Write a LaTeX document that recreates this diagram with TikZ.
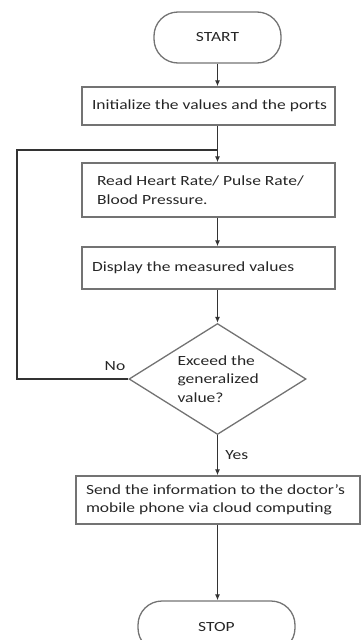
\documentclass[tikz,border=0pt]{standalone}
\usepackage{fontspec}
\setmainfont{Carlito}[FakeStretch=1.25]
\usetikzlibrary{shapes.geometric, arrows.meta, positioning}

\begin{document}
\begin{tikzpicture}[x=1pt, y=1pt,
        every node/.style={font=\fontsize{14}{18.5}\selectfont, text=black!85},
        term/.style={draw=black!55, line width=1.3pt, rounded corners=24pt,
            minimum width=127pt, minimum height=51pt, inner sep=0pt},
        proc/.style={draw=black!55, line width=1.3pt, align=left,
            minimum width=253pt, inner xsep=10pt, inner ysep=0pt},
        decision/.style={diamond, draw=black!55, line width=1.3pt, aspect=1.6,
            inner sep=0pt, minimum width=177pt, minimum height=111pt},
        flow/.style={-{Latex[length=6pt, width=5pt]}, line width=1.2pt, draw=black!80}]
    \useasboundingbox (0,0) rectangle (361,-640);

    \node (start) [term] at (217.5,-37.5) {START};
    \node (init) [proc, minimum height=38pt] at (208.5,-106)
        {\makebox[233pt][l]{Initialize the values and the ports}};
    \node (read) [proc, minimum height=54pt, inner xsep=15pt] at (208.5,-190)
        {\parbox{223pt}{\raggedright Read Heart Rate/ Pulse Rate/\\Blood Pressure.}};
    \node (disp) [proc, minimum height=42pt] at (208.5,-268)
        {\makebox[233pt][l]{Display the measured values}};
    \node (dec) [decision] at (217.5,-379)
        {\parbox{80pt}{\raggedright Exceed the\\generalized\\value?}};
    \node (send) [proc, minimum width=284pt, minimum height=48pt] at (218,-500)
        {\parbox{264pt}{\raggedright Send the information to the doctor's\\mobile phone via cloud computing}};
    \node (stop) [term, minimum width=157pt] at (216.5,-626.5) {STOP};

    \coordinate (loop) at (17,-150);

    % main flow
    \draw [flow] (start.south) -- (start.south |- init.north);
    \draw [flow] (start |- init.south) -- (start |- read.north);
    \draw [flow] (start |- read.south) -- (start |- disp.north);
    \draw [flow] (start |- disp.south) -- (dec.north);
    \draw [flow] (dec.south) -- (dec.south |- send.north)
        node[midway, right=4pt] {Yes};
    \draw [flow] (dec |- send.south) -- (dec |- stop.north);

    % back to reading
    \draw [line width=1.2pt, draw=black!80] (dec.west) -| (loop) -- (start |- loop);
    \node (no) at (115,-366) {No};
\end{tikzpicture}
\end{document}
